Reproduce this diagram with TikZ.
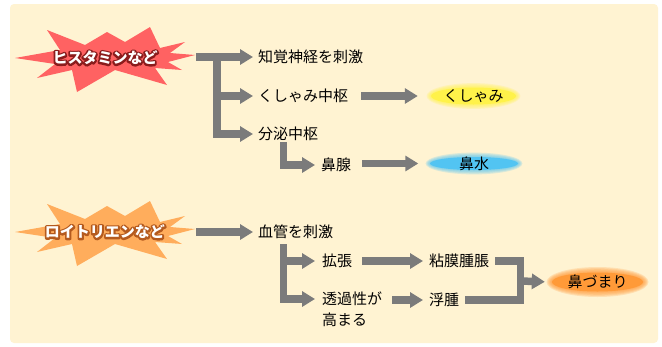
\documentclass[tikz,border=0pt]{standalone}
\usepackage{fontspec}
\setmainfont{Noto Sans CJK JP}
\usetikzlibrary{arrows.meta,calc}
\definecolor{bg}{HTML}{FFF3D2}
\definecolor{conn}{HTML}{7B7B7B}
\definecolor{starred}{HTML}{FF6262}
\definecolor{starorange}{HTML}{FFAD5C}
\definecolor{darkred}{HTML}{8A1C1C}
\definecolor{brownedge}{HTML}{B45A1E}
\definecolor{glowyellow}{HTML}{FFF24A}
\definecolor{glowblue}{HTML}{52C4F2}
\definecolor{gloworange}{HTML}{FF9A38}
% outlined text: stroked copy in the edge colour, white copy on top
\newcommand\olt[2]{\leavevmode
 \rlap{\color{#1}\special{pdf:code q 1 j 1 J 3.6 w 2 Tr}#2\special{pdf:code Q}}%
 {\color{white}#2}}
\newcommand\glowat[6]{% center, color, rx, ry, layers, step
 \foreach \k [evaluate=\k as \rx using #3+#6*(#5-\k), evaluate=\k as \ry using #4+#6*(#5-\k)] in {0,...,#5}
   {\fill[#2,opacity=.22] (#1) ellipse [x radius=\rx pt, y radius=\ry pt];}
 \fill[#2] (#1) ellipse [x radius=#3pt, y radius=#4pt];}
\newcommand\starpath[1]{%
 ($(#1)+(-90,0)$) -- ($(#1)+(-45,-8)$) -- ($(#1)+(-58,-28)$) -- ($(#1)+(-20,-13)$) --
 ($(#1)+(2,-26)$) -- ($(#1)+(20,-16)$) -- ($(#1)+(45,-31)$) -- ($(#1)+(55,-10)$) --
 ($(#1)+(80,-16)$) -- ($(#1)+(65,-5)$) -- ($(#1)+(90,-3)$) -- ($(#1)+(63,4)$) --
 ($(#1)+(77,12)$) -- ($(#1)+(50,10)$) -- ($(#1)+(62,27)$) -- ($(#1)+(10,12)$) --
 ($(#1)+(-28,34)$) -- ($(#1)+(-33,12)$) -- ($(#1)+(-68,20)$) -- ($(#1)+(-50,6)$) -- cycle}
\begin{document}
\begin{tikzpicture}[x=1pt,y=-1pt,
  every node/.style={inner sep=0pt, text height=12.5pt, text depth=1pt,
    font=\fontsize{15pt}{18pt}\selectfont},
  lbl/.style={anchor=west},
  starbox/.style={minimum width=182pt, minimum height=20pt, font=\fontsize{15pt}{18pt}\selectfont\bfseries},
  glowbox/.style={minimum width=95pt, minimum height=20pt},
  bar/.style={draw=conn, line width=7.5pt, line join=miter},
  arr/.style={bar, -{Triangle[width=15pt,length=13pt]}}]
\useasboundingbox (0,0) rectangle (662,346);
\fill[white] (0,0) rectangle (662,346);
\fill[bg, rounded corners=4pt] (10,4) rectangle (658,343);

% stars
\coordinate (c1) at (105,58);
\coordinate (c2) at (105,232);
\fill[starred] \starpath{c1};
\fill[starorange] \starpath{c2};

% glows
\glowat{473.5,96}{glowyellow}{42.5}{8.5}{4}{1.1}
\glowat{474,163.5}{glowblue}{44}{6.5}{4}{1.1}
\glowat{597.5,282}{gloworange}{45.5}{9.5}{5}{1.1}

% nodes
\node[starbox] (star1) at (105,58) {\olt{darkred}{ヒスタミンなど}};
\node[starbox] (star2) at (105,232) {\olt{brownedge}{ロイトリエンなど}};
\node[lbl] (t1) at (258,57) {知覚神経を刺激};
\node[lbl] (t2) at (258,96) {くしゃみ中枢};
\node[lbl] (t3) at (258,134) {分泌中枢};
\node[lbl] (t4) at (321,165) {鼻腺};
\node[glowbox] (kush) at (473.5,96) {くしゃみ};
\node[glowbox] (hana) at (474,163.5) {鼻水};
\node[lbl] (t5) at (258,232) {血管を刺激};
\node[lbl] (t6) at (322,261) {拡張};
\node[lbl] (t7) at (322,299) {\parbox[t]{62pt}{\raggedright\baselineskip=21pt 透過性が\\高まる}};
\node[lbl] (t8) at (429,261) {粘膜腫脹};
\node[lbl] (t9) at (429,300) {浮腫};
\node[glowbox] (zumari) at (597.5,282) {鼻づまり};

% connectors, histamine
\coordinate (j1) at (217,53.5);
\draw[arr, shorten >=5pt] (star1.east |- t1.west) -- (t1.west);
\draw[arr, shorten >=5pt] (j1) |- (t3.west);
\draw[arr, shorten >=5pt] (j1 |- t2.west) -- (t2.west);
\coordinate (j3) at (283.5,142);
\draw[arr, shorten >=6pt] (j3) |- (t4.west);
\draw[arr, shorten >=8pt] ([xshift=13pt]t2.east) -- (kush.west);
\draw[arr, shorten >=8pt] ([xshift=11pt]t4.east |- hana.west) -- (hana.west);

% connectors, leukotriene
\draw[arr, shorten >=5pt] (star2.east |- t5.west) -- (t5.west);
\coordinate (j5) at (283.5,244);
\draw[arr, shorten >=7pt] (j5) |- (t7.west);
\draw[arr, shorten >=7pt] (j5 |- t6.west) -- (t6.west);
\draw[arr, shorten >=6pt] ([xshift=10pt]t6.east) -- (t8.west);
\draw[arr, shorten >=6pt] ([xshift=8pt]t7.east |- t9.west) -- (t9.west);
\coordinate (m) at (520.5,281);
\draw[bar] ([xshift=6pt]t8.east) -| (m);
\draw[bar] ([xshift=6pt]t9.east) -| (m);
\draw[arr, shorten >=5pt] (m) -- (zumari.west);
\end{tikzpicture}
\end{document}
